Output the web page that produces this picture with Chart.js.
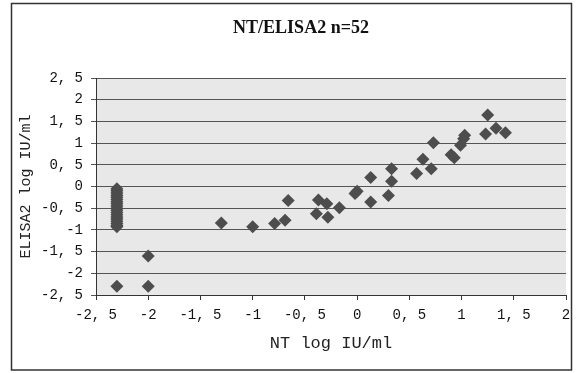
<!DOCTYPE html>
<html>
<head>
<meta charset="utf-8">
<script src="https://cdn.jsdelivr.net/npm/chart.js@4.4.1/dist/chart.umd.min.js"></script>
<style>
    body { margin: 0; background: #fff; }
    #wrap { position: relative; width: 581px; height: 373px; }
</style>
</head>
<body>
<div id="wrap"><canvas id="ntChart" width="581" height="373"></canvas></div>
<script>
// NT (x) vs ELISA2 (y), log IU/ml, n=52
const ntValues = [
    -2.3, -2.3, -2.3, -2.3, -2.3, -2.3, -2.3, -2.3, -2.3, -2.3,
    -2.3, -2.3, -2.3, -2.3, -2.3, -2.3, -2.3, -2.3, -2.3,
    -2.3, -2.0, -2.0,
    -1.3, -1.0, -0.79, -0.69, -0.66, -0.39, -0.37, -0.29, -0.28, -0.17,
    -0.02, 0.0, 0.13, 0.13, 0.30, 0.33, 0.33,
    0.57, 0.63, 0.71, 0.73, 0.9, 0.93, 0.99, 1.02, 1.03,
    1.23, 1.25, 1.33, 1.42
];
const elisaValues = [
    -0.05, -0.1, -0.15, -0.2, -0.25, -0.3, -0.35, -0.4, -0.45, -0.5,
    -0.55, -0.6, -0.65, -0.7, -0.75, -0.8, -0.85, -0.9, -0.93,
    -2.3, -1.6, -2.3,
    -0.84, -0.93, -0.85, -0.78, -0.32, -0.63, -0.31, -0.40, -0.71, -0.49,
    -0.16, -0.11, 0.21, -0.36, -0.21, 0.12, 0.41,
    0.30, 0.63, 0.41, 1.01, 0.73, 0.66, 0.95, 1.1, 1.18,
    1.21, 1.65, 1.34, 1.24
];
const chartTitle = 'NT/ELISA2 n=52';
const xTitle = 'NT log IU/ml';
const yTitle = 'ELISA2 log IU/ml';

// "2.5" -> "2, 5" like the original
function commaLabel(value) {
    return String(value).replace('.', ', ');
}

const points = ntValues.map(function (x, i) {
    return { x: x, y: elisaValues[i] };
});

// white page, grey plot area, outer frame and the title
const framePlugin = {
    id: 'frame',
    beforeDraw(chart) {
        const ctx = chart.ctx;
        const a = chart.chartArea;
        ctx.save();
        ctx.fillStyle = '#ffffff';
        ctx.fillRect(0, 0, chart.width, chart.height);
        ctx.fillStyle = '#e8e8e8';
        ctx.fillRect(a.left, a.top, a.right - a.left, a.bottom - a.top);
        ctx.strokeStyle = '#333';
        ctx.lineWidth = 1.5;
        ctx.strokeRect(11.5, 3.5, 560, 366.5);
        ctx.fillStyle = '#111';
        ctx.font = 'bold 18px "Liberation Serif"';
        ctx.textAlign = 'center';
        ctx.textBaseline = 'middle';
        ctx.fillText(chartTitle, 301, 28);
        ctx.restore();
    }
};

const config = {
    type: 'scatter',
    data: {
        datasets: [{
            label: chartTitle,
            data: points,
            pointStyle: 'rectRot',
            pointRadius: 6.5,
            pointHoverRadius: 6.5,
            backgroundColor: '#4d4d4d',
            borderColor: '#4d4d4d',
            borderWidth: 0
        }]
    },
    options: {
        responsive: false,
        animation: false,
        layout: { padding: { top: 78, right: 15, bottom: 0, left: 0 } },
        plugins: {
            legend: { display: false },
            tooltip: { enabled: false }
        },
        scales: {
            x: {
                type: 'linear',
                min: -2.5,
                max: 2,
                afterFit(scale) { scale.height = 78; },
                ticks: {
                    stepSize: 0.5,
                    padding: 7,
                    color: '#111',
                    font: { family: 'Liberation Mono', size: 14 },
                    callback: commaLabel
                },
                grid: { drawOnChartArea: false, tickLength: 5, color: '#333' },
                border: { color: '#333', width: 1 },
                title: {
                    display: true,
                    text: xTitle,
                    color: '#222',
                    font: { family: 'Liberation Mono', size: 17 },
                    padding: { top: 19, bottom: 19 }
                }
            },
            y: {
                type: 'linear',
                min: -2.5,
                max: 2.5,
                afterFit(scale) { scale.width = 96; },
                ticks: {
                    stepSize: 0.5,
                    padding: 8,
                    color: '#111',
                    font: { family: 'Liberation Mono', size: 14 },
                    callback: commaLabel
                },
                grid: { color: '#555', lineWidth: 1, tickLength: 5 },
                border: { color: '#333', width: 1 },
                title: {
                    display: true,
                    text: yTitle,
                    color: '#222',
                    font: { family: 'Liberation Mono', size: 15 },
                    padding: { top: 17, bottom: 17 }
                }
            }
        }
    },
    plugins: [framePlugin]
};

const chart = new Chart(document.getElementById('ntChart'), config);
</script>
</body>
</html>
